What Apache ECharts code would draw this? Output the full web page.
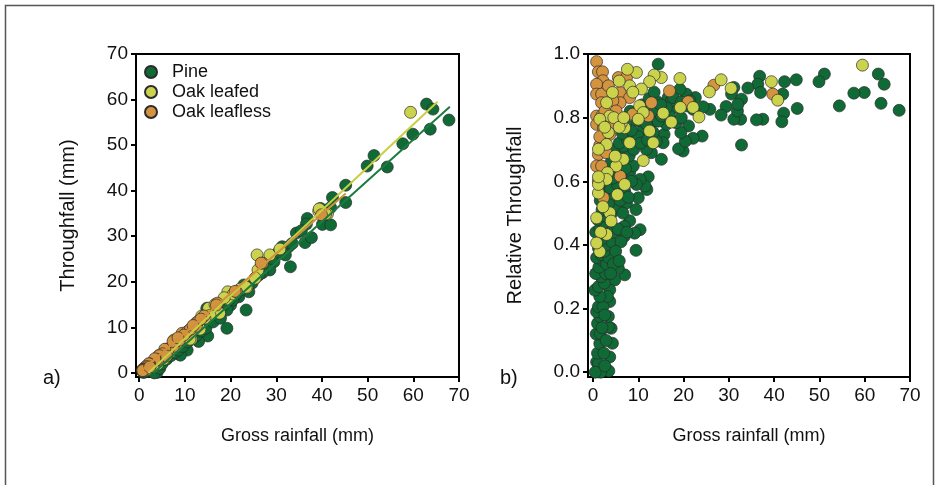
<!DOCTYPE html>
<html>
<head>
<meta charset="utf-8">
<script src="https://cdn.jsdelivr.net/npm/echarts@6/dist/echarts.min.js"></script>
<style>
  html, body { margin: 0; padding: 0; background: #ffffff; }
  #chart { width: 936px; height: 485px; }
</style>
</head>
<body>
<div id="chart"></div>
<script>
// ---------- DATA ----------
const seriesNames = ['Pine', 'Oak leafed', 'Oak leafless'];
const xTicks = [0, 10, 20, 30, 40, 50, 60, 70];
const yTicksA = [0, 10, 20, 30, 40, 50, 60, 70];
const yTicksB = [0, 0.2, 0.4, 0.6, 0.8, 1.0];
const xTitle = 'Gross rainfall (mm)';
const yTitleA = 'Throughfall (mm)';
const yTitleB = 'Relative Throughfall';
const panelLabels = ['a)', 'b)'];

// Panel a: [gross rainfall, throughfall]
const pineA = [
  [62.9,59.0],[64.3,57.9],[67.8,55.5],[63.7,53.5],[59.9,52.4],[57.7,50.3],[51.4,47.7],[49.9,45.4],[54.3,45.2],
  [45.2,41.2],[45.2,37.4],[42.3,38.5],[41.9,36.3],[39.7,36.1],[40.1,32.6],[41.9,32.5],[36.8,33.9],[36.6,32.7],
  [34.4,30.7],[36.3,28.6],[37.7,29.7],[32.7,27.7],[31.3,27.7],[32.0,25.9],[33.1,23.3],[29.5,24.4],[28.6,22.6],
  [25.4,20.8],[24.7,19.7],[22.9,19.3],[24.0,17.8],[23.4,13.8],[21.8,16.7],[19.2,9.8],[20.0,14.9],[19.2,13.8],
  [17.4,13.1],[14.8,14.2],[15.6,11.6],[15.0,8.1],[13.0,6.9],[11.9,8.7],[10.5,5.0],[9.0,3.9],
  [30.5,26.5],[33.5,28.4],[35.5,31.2],[27.0,22.0],[26.2,21.5],[22.0,18.2],[21.0,17.0],[20.5,16.0],[18.5,15.5],
  [18.0,14.5],[17.0,14.0],[16.5,12.8],[16.0,13.5],[15.2,12.5],[14.5,12.0],[14.0,11.0],[13.5,10.5],[13.8,12.0],
  [12.5,10.0],[12.8,9.3],[12.0,10.2],[11.5,9.5],[11.2,8.0],[10.8,9.2],[10.2,8.5],[10.0,7.4],[9.5,7.8],[9.8,6.5],
  [9.2,7.0],[8.8,6.2],[8.5,7.2],[8.0,6.3],[8.2,5.2],[7.7,5.8],[7.5,6.5],[7.2,4.8],[7.0,5.5],[6.8,4.3],[6.5,5.2],
  [6.2,4.0],[6.0,4.6],[5.8,3.5],[5.5,4.2],[5.3,3.2],[5.0,3.8],[4.8,2.6],[4.6,3.4],[4.4,2.2],[4.2,3.0],[4.0,1.8],
  [3.8,2.6],[3.6,1.3],[3.5,2.2],[3.3,0.9],[3.2,1.8],[3.0,1.2],[2.9,0.5],[2.8,2.0],[2.6,1.5],[2.5,0.8],[2.4,1.9],
  [2.2,1.2],[2.1,0.4],[2.0,1.5],[1.9,0.9],[1.8,1.2],[1.7,0.3],[1.6,0.8],[1.5,1.0],[1.4,0.5],[1.3,0.2],[1.2,0.7],
  [1.1,0.4],[1.0,0.6],[0.9,0.1],[0.8,0.4],[3.9,0.1],[3.3,0.0],[4.5,1.0],[5.0,2.0],[6.0,3.0],[7.0,3.8],[7.8,4.5],
  [8.6,5.0],[9.5,5.8],[10.6,6.8],[11.8,7.6],[12.5,8.2],[13.6,9.2],[14.6,9.8],[16.2,11.2],[17.8,12.0],[19.8,16.2]
];
const leafedA = [
  [59.4,57.2],[25.8,25.9],[28.6,25.9],[30.8,27.2],[26.0,22.6],[25.4,20.8],[23.6,18.7],[39.3,35.5],[41.2,34.9],
  [19.4,17.8],[19.4,16.2],[17.6,13.1],[15.2,14.2],[13.7,12.5],[11.4,7.4],[22.1,18.4],[20.6,17.3],[15.5,12.6],
  [12.5,11.0],[12.0,9.5],[10.3,8.6],[10.0,8.0],[9.6,8.5],[8.1,7.3],[8.1,5.8],[7.0,5.4],[7.6,7.2],[6.3,4.9],
  [6.7,4.5],[5.4,3.0],[5.9,5.2],[5.1,3.3],[4.9,3.3],[4.3,3.8],[4.0,1.9],[3.7,3.0],[3.4,2.6],[3.0,2.1],[3.2,2.0],
  [3.0,1.3],[2.5,1.6],[1.7,0.75],[1.5,0.6],[1.2,0.7],[0.8,0.4],[1.2,0.55],[1.5,1.2],[16.6,15.0],[13.3,9.6],
  [11.1,7.4],[23.4,18.8],[39.4,36.0],[40.8,34.9],[18.6,16.5],[14.4,12.0]
];
const leaflessA = [
  [39.9,34.7],[27.0,24.1],[21.3,17.8],[17.1,15.3],[12.9,11.3],[12.5,10.2],[9.4,8.7],[7.5,5.8],[8.1,7.0],
  [8.8,7.2],[6.0,5.1],[6.3,5.0],[5.6,5.2],[7.4,6.9],[5.1,4.2],[4.4,3.8],[4.1,2.9],[3.7,2.8],[3.4,3.1],[2.3,1.8],
  [1.9,1.6],[1.9,1.5],[2.2,2.0],[2.1,2.0],[1.5,1.4],[1.2,1.1],[1.2,0.8],[0.8,0.8],[0.8,0.7],[0.8,0.6],[0.8,0.5],
  [2.3,1.3],[6.0,3.7],[16.9,14.9],[21.0,17.9],[26.7,24.1],[10.5,9.0],[11.2,9.6],[9.8,8.3],[14.2,12.5],[8.5,7.7],
  [13.5,11.8],[11.8,10.4]
];

// Panel b: [gross rainfall, relative throughfall]
const pineB = [
  [14.4,0.968],[36.8,0.930],[36.4,0.905],[37.0,0.879],[34.2,0.893],[42.3,0.913],[44.9,0.919],[51.1,0.937],
  [49.9,0.913],[63.0,0.937],[64.3,0.905],[59.9,0.879],[57.6,0.877],[63.6,0.845],[54.4,0.837],[67.6,0.823],
  [45.1,0.829],[41.9,0.874],[42.1,0.814],[41.7,0.787],[37.5,0.795],[36.1,0.793],[32.8,0.714],[32.6,0.795],
  [31.1,0.795],[31.9,0.821],[29.4,0.835],[28.3,0.808],[31.1,0.895],[30.6,0.874],[32.8,0.858],[32.0,0.842],
  [25.8,0.826],[24.3,0.834],[22.6,0.863],[22.1,0.826],[20.6,0.874],[21.4,0.853],[24.1,0.742],[22.1,0.735],
  [19.9,0.695],[18.9,0.702],[20.4,0.726],[21.1,0.774],[19.4,0.753],[18.4,0.784],[19.5,0.800],[18.4,0.832],
  [16.6,0.863],[17.3,0.853],[16.9,0.806],[15.7,0.747],[15.1,0.669],[15.5,0.721],[16.2,0.779],[14.0,0.726],
  [12.9,0.690],[11.8,0.700],[12.2,0.614],[11.9,0.574],[11.5,0.585],[10.4,0.606],[9.6,0.590],[10.0,0.548],
  [10.4,0.448],[9.5,0.511],[9.2,0.437],[9.5,0.383],[8.1,0.476],[7.0,0.306],[5.6,0.327],[6.9,0.427],[6.9,0.458],
  [7.4,0.532],[8.1,0.627],[8.9,0.648],[9.6,0.721],[11.1,0.763],[12.6,0.774],[13.3,0.753],[14.4,0.789],
  [15.1,0.805],[16.2,0.831],[19.2,0.889],[17.7,0.863],[19.5,0.849],[20.6,0.837],
  [4.8,0.290],[3.7,0.259],[3.7,0.222],[4.0,0.138],[4.3,0.091],[3.7,0.048],[3.5,0.004],[1.7,0.0],[0.8,0.032],
  [1.2,0.027],[1.0,0.06],[1.5,0.09],[0.7,0.12],[1.6,0.122],[1.0,0.153],[3.4,0.143],[3.4,0.175],[1.5,0.175],
  [0.8,0.19],[1.2,0.206],[2.2,0.206],[3.2,0.238],[1.5,0.238],[0.4,0.258],[1.2,0.269],[2.5,0.28],[1.8,0.30],
  [0.6,0.31],[2.8,0.31],[1.3,0.33],[2.2,0.35],[3.0,0.34],[0.8,0.36],[1.8,0.37],[3.5,0.36],[2.5,0.38],[1.2,0.39],
  [3.2,0.40],[4.2,0.41],[2.0,0.42],[0.6,0.44],[2.8,0.44],[4.5,0.44],[1.5,0.45],[3.6,0.46],[2.4,0.47],[5.5,0.45],
  [1.0,0.48],[3.0,0.49],[4.2,0.50],[2.0,0.51],[5.0,0.52],[3.4,0.53],[6.0,0.54],[1.6,0.54],[4.6,0.56],[2.6,0.57],
  [3.8,0.58],[5.4,0.59],[7.0,0.57],[2.2,0.60],[4.4,0.61],[6.2,0.62],[3.2,0.63],[5.0,0.64],[7.2,0.64],[4.0,0.66],
  [6.4,0.67],[5.6,0.69],[8.0,0.68],[4.8,0.70],[6.8,0.71],[9.0,0.70],[5.8,0.72],[7.6,0.73],[10.0,0.74],[6.5,0.75],
  [8.5,0.76],[7.2,0.78],[9.8,0.79],[11.5,0.80],[13.0,0.82],[8.2,0.82],[10.8,0.84],[12.4,0.86],[14.2,0.85],
  [13.5,0.88],[15.0,0.84],[11.8,0.78],[10.5,0.72],[12.0,0.73],[8.5,0.60],[7.8,0.55],[6.6,0.50],[7.5,0.44],
  [6.2,0.41],[5.0,0.38],[4.5,0.34],[5.8,0.35],[3.9,0.31],[2.6,0.18],[2.0,0.14],[2.9,0.10],[2.4,0.06],[0.5,0.0],
  [2.6,0.02]
];
const leafedB = [
  [59.5,0.965],[39.4,0.913],[40.8,0.855],[30.5,0.892],[28.3,0.919],[25.7,0.881],[22.1,0.832],[23.4,0.802],
  [19.2,0.923],[19.3,0.832],[17.3,0.786],[15.1,0.926],[13.5,0.934],[12.5,0.913],[15.5,0.814],[12.5,0.758],
  [13.3,0.721],[11.1,0.665],[10.7,0.890],[9.6,0.942],[7.6,0.952],[8.1,0.900],[10.3,0.837],[11.1,0.816],
  [10.0,0.795],[8.1,0.721],[7.0,0.768],[6.3,0.784],[6.7,0.669],[7.0,0.590],[5.4,0.558],[5.1,0.648],[4.9,0.679],
  [4.3,0.879],[3.0,0.847],[3.7,0.805],[3.4,0.753],[3.0,0.716],[3.2,0.627],[3.0,0.606],[3.7,0.501],[4.0,0.475],
  [3.0,0.433],[1.7,0.440],[1.5,0.379],[0.8,0.485],[1.2,0.563],[1.2,0.590],[0.8,0.406],[1.2,0.614],[1.2,0.701],
  [1.5,0.795],[5.8,0.915],[4.6,0.800],[2.6,0.770],[5.8,0.770],[6.8,0.800],[8.8,0.880],[2.2,0.520]
];
const leaflessB = [
  [0.8,0.976],[1.2,0.944],[2.1,0.944],[2.2,0.916],[0.8,0.905],[0.8,0.874],[1.9,0.874],[1.9,0.847],[0.8,0.805],
  [1.9,0.805],[0.8,0.779],[2.3,0.768],[3.7,0.747],[1.5,0.713],[1.2,0.684],[0.8,0.648],[1.9,0.648],[2.3,0.548],
  [6.0,0.616],[5.6,0.926],[7.4,0.926],[6.0,0.879],[8.1,0.863],[6.0,0.847],[4.4,0.853],[5.1,0.821],[8.8,0.811],
  [12.9,0.847],[12.2,0.805],[16.9,0.884],[21.0,0.850],[26.7,0.902],[39.7,0.874],[3.4,0.900],[4.1,0.784],
  [2.6,0.820],[1.5,0.740],[2.9,0.690],[1.2,0.600]
];

// Regression lines (panel a), endpoints in data units
const pineFit = [[3.1, 0], [68.0, 58.4]];
const leafedFit = [[2.0, 0], [65.3, 59.5]];
const leaflessFit = [[0.5, 0.5], [45.2, 39.4]];

// ---------- STYLE ----------
const colors = { pine: '#0f6a36', leafed: '#cbd34c', leafless: '#d4943f' };
const lineColors = { pine: '#1b7a3f', leafed: '#c9cf42', leafless: '#d0913c' };
const FONT = 'Liberation Sans, Arial, sans-serif';
const chart = echarts.init(document.getElementById('chart'), null, { renderer: 'canvas' });

function xAxisDef(gridIndex, min) {
  return {
    type: 'value', gridIndex, min, max: 70,
    name: xTitle, nameLocation: 'middle', nameGap: 50,
    nameTextStyle: { fontFamily: FONT, fontSize: 18, color: '#111' },
    axisLine: { show: true, onZero: false, lineStyle: { color: '#000', width: 2 } },
    axisTick: { show: true, length: 5, inside: false, customValues: xTicks, lineStyle: { color: '#000', width: 2 } },
    axisLabel: { customValues: xTicks, margin: 9, fontFamily: FONT, fontSize: 19, color: '#111' },
    splitLine: { show: false }
  };
}
function yAxisDef(gridIndex, min, max, ticks, name, nameGap, fmt) {
  return {
    type: 'value', gridIndex, min, max,
    name, nameLocation: 'middle', nameGap,
    nameTextStyle: { fontFamily: FONT, fontSize: 20, color: '#111' },
    axisLine: { show: true, onZero: false, lineStyle: { color: '#000', width: 2 } },
    axisTick: { show: true, length: 5, inside: false, customValues: ticks, lineStyle: { color: '#000', width: 2 } },
    axisLabel: { customValues: ticks, margin: 8, fontFamily: FONT, fontSize: 19, color: '#111', formatter: fmt },
    splitLine: { show: false }
  };
}
function scatter(name, data, color, xi, z) {
  return {
    type: 'scatter', name, data, xAxisIndex: xi, yAxisIndex: xi,
    symbol: 'circle', symbolSize: 12, z,
    itemStyle: { color, borderColor: '#2b2b2b', borderWidth: 0.7, opacity: 1 },
    emphasis: { disabled: true }, silent: true
  };
}
function fitLine(name, data, color) {
  return {
    type: 'line', name, data, xAxisIndex: 0, yAxisIndex: 0,
    symbol: 'none', z: 5, silent: true,
    lineStyle: { color, width: 2 }
  };
}

const option = {
  backgroundColor: '#ffffff',
  animation: false,
  grid: [
    { left: 136, top: 54, width: 323, height: 323, show: true, borderColor: '#000', borderWidth: 2, backgroundColor: 'transparent' },
    { left: 588, top: 54, width: 322, height: 323, show: true, borderColor: '#000', borderWidth: 2, backgroundColor: 'transparent' }
  ],
  xAxis: [xAxisDef(0, -0.7), xAxisDef(1, -1.1)],
  yAxis: [
    yAxisDef(0, -0.9, 70, yTicksA, yTitleA, 58, v => String(v)),
    yAxisDef(1, -0.015, 1.0, yTicksB, yTitleB, 63, v => v.toFixed(1))
  ],
  legend: {
    data: seriesNames, orient: 'vertical', left: 144, top: 63, padding: 0,
    itemWidth: 12, itemHeight: 12, itemGap: 2,
    textStyle: { fontFamily: FONT, fontSize: 18, color: '#111', padding: [0, 0, 0, 10] },
    selectedMode: false
  },
  graphic: [
    { type: 'rect', shape: { x: 5.5, y: 5.5, width: 928, height: 495 }, style: { fill: 'none', stroke: '#555', lineWidth: 1.5 }, silent: true },
    { type: 'text', left: 43, top: 368, style: { text: panelLabels[0], font: '20px ' + FONT, fill: '#111' } },
    { type: 'text', left: 500, top: 368, style: { text: panelLabels[1], font: '20px ' + FONT, fill: '#111' } }
  ],
  series: [
    scatter(seriesNames[0], pineA, colors.pine, 0, 2),
    scatter(seriesNames[1], leafedA, colors.leafed, 0, 3),
    scatter(seriesNames[2], leaflessA, colors.leafless, 0, 4),
    fitLine('Pine fit', pineFit, lineColors.pine),
    fitLine('Oak leafed fit', leafedFit, lineColors.leafed),
    fitLine('Oak leafless fit', leaflessFit, lineColors.leafless),
    scatter(seriesNames[0], pineB, colors.pine, 1, 2),
    scatter(seriesNames[2], leaflessB, colors.leafless, 1, 3),
    scatter(seriesNames[1], leafedB, colors.leafed, 1, 4)
  ]
};
chart.setOption(option);
</script>
</body>
</html>
